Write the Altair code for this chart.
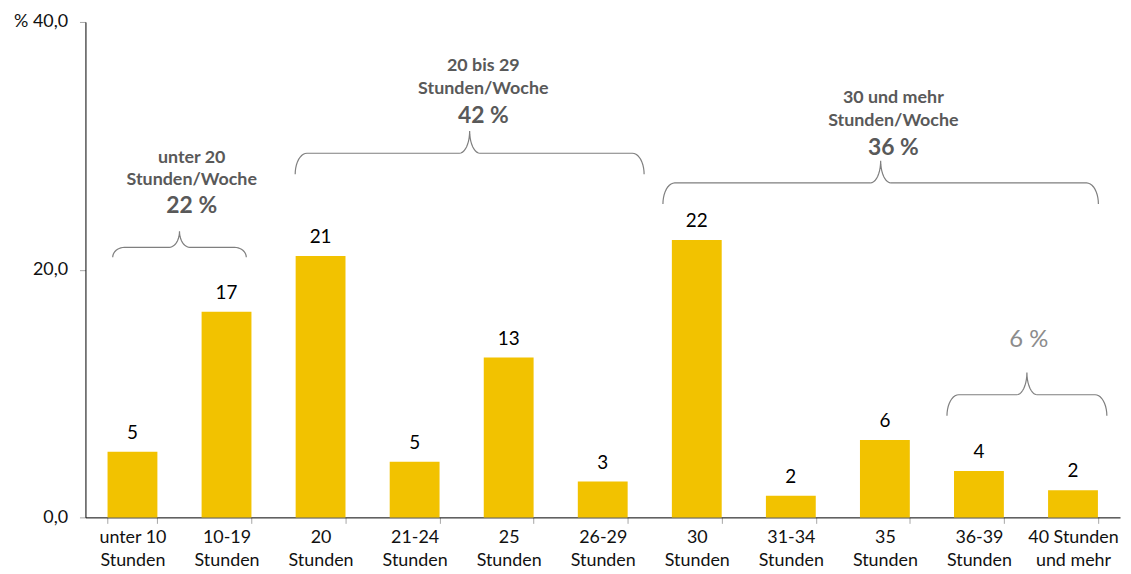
import math
import altair as alt
import pandas as pd

# ---- data ----
categories = ["unter 10\nStunden", "10-19\nStunden", "20\nStunden", "21-24\nStunden",
              "25\nStunden", "26-29\nStunden", "30\nStunden", "31-34\nStunden",
              "35\nStunden", "36-39\nStunden", "40 Stunden\nund mehr"]
values = [5.3, 16.6, 21.1, 4.5, 12.9, 2.9, 22.4, 1.75, 6.25, 3.75, 2.2]
value_labels = ["5", "17", "21", "5", "13", "3", "22", "2", "6", "4", "2"]

# braces: start / end (in category index units), level of line, end drop, peak rise
brace_start = [-0.21, 1.73, 5.64, 8.66]
brace_end = [1.21, 5.44, 10.27, 10.36]
brace_level = [21.8, 29.4, 27.0, 9.9]
brace_drop = [0.8, 1.7, 1.7, 1.7]
brace_rise = [1.3, 1.8, 1.8, 1.8]

# brace annotation texts
head_x = [0.63, 3.73, 8.09]
head_line1 = ["unter 20", "20 bis 29", "30 und mehr"]
head_line1_y = [29.05, 36.45, 33.85]
head_line2 = ["Stunden/Woche", "Stunden/Woche", "Stunden/Woche"]
head_line2_y = [27.2, 34.6, 31.98]
head_pct = ["22 %", "42 %", "36 %"]
head_pct_y = [25.1, 32.4, 29.85]
small_pct = ["6 %"]
small_pct_x = [9.53]
small_pct_y = [14.3]

BAR = "#F2C200"
GREY_TXT = "#595959"
FONT = "Lato"

df = pd.DataFrame({"cat": categories, "value": values, "label": value_labels})


def brace_points(bid, x0, x1, yh, drop, rise, rx=0.125, rc=0.11, n=10):
    xc = (x0 + x1) / 2
    yend = yh - drop
    ypk = yh + rise
    pts = []
    for k in range(n + 1):
        t = (math.pi / 2) * k / n
        pts.append((x0 + rx - rx * math.cos(t), yend + drop * math.sin(t)))
    for k in range(n + 1):
        t = (math.pi / 2) * k / n
        pts.append((xc - rc + rc * math.sin(t), ypk - rise * math.cos(t)))
    for k in range(n + 1):
        t = (math.pi / 2) * k / n
        pts.append((xc + rc - rc * math.cos(t), ypk - rise * math.sin(t)))
    for k in range(n + 1):
        t = (math.pi / 2) * k / n
        pts.append((x1 - rx + rx * math.sin(t), yh - drop * (1 - math.cos(t))))
    return [{"b": bid, "o": i, "bx": p[0], "by": p[1]} for i, p in enumerate(pts)]


rows = []
for i in range(len(brace_start)):
    rows += brace_points(i, brace_start[i], brace_end[i], brace_level[i], brace_drop[i], brace_rise[i])
braces = pd.DataFrame(rows)

heads = pd.DataFrame({
    "x": head_x * 2, "y": head_line1_y + head_line2_y, "t": head_line1 + head_line2,
})
pcts = pd.DataFrame({"x": head_x, "y": head_pct_y, "t": head_pct})
small = pd.DataFrame({"x": small_pct_x, "y": small_pct_y, "t": small_pct})

yscale = alt.Scale(domain=[0, 40], nice=False, zero=True)
xq = alt.Scale(domain=[-0.5, 10.5], nice=False, zero=False)
xband = alt.Scale(paddingInner=0.47, paddingOuter=0.235)

bars = alt.Chart(df).mark_bar(color=BAR).encode(
    x=alt.X("cat:N", sort=categories, scale=xband,
            axis=alt.Axis(title=None, orient="bottom", labelAngle=0,
                          labelExpr="split(datum.label, '\\n')",
                          tickBand="extent", tickSize=6, tickColor="#a6a6a6",
                          domainColor="#000000", labelFontSize=18, labelLineHeight=23,
                          labelPadding=5, labelColor="#111111", labelFont=FONT,
                          labelBaseline="top")),
    y=alt.Y("value:Q", scale=yscale,
            axis=alt.Axis(title=None, values=[0, 20, 40], grid=False, tickSize=6,
                          tickColor="#a6a6a6", domainColor="#000000", labelFontSize=18,
                          labelColor="#111111", labelFont=FONT, labelPadding=12,
                          labelExpr="datum.value == 40 ? '% 40,0' : replace(format(datum.value, '.1f'), '.', ',')")),
)

vals = alt.Chart(df).mark_text(fontSize=19, font=FONT, color="#000000", baseline="alphabetic", dy=-13).encode(
    x=alt.X("cat:N", sort=categories, scale=xband, axis=None),
    y=alt.Y("value:Q", scale=yscale),
    text="label:N",
)

brace_lines = alt.Chart(braces).mark_line(color="#7f7f7f", strokeWidth=1.2).encode(
    x=alt.X("bx:Q", scale=xq, axis=None),
    y=alt.Y("by:Q", scale=yscale),
    detail="b:N",
    order="o:Q",
)

head_text = alt.Chart(heads).mark_text(fontSize=18, fontWeight="bold", font=FONT, color=GREY_TXT,
                                       baseline="middle").encode(
    x=alt.X("x:Q", scale=xq, axis=None), y=alt.Y("y:Q", scale=yscale), text="t:N")

pct_text = alt.Chart(pcts).mark_text(fontSize=23, fontWeight="bold", font=FONT, color=GREY_TXT,
                                     baseline="middle").encode(
    x=alt.X("x:Q", scale=xq, axis=None), y=alt.Y("y:Q", scale=yscale), text="t:N")

small_text = alt.Chart(small).mark_text(fontSize=24, font=FONT, color="#8c8c8c",
                                        baseline="middle").encode(
    x=alt.X("x:Q", scale=xq, axis=None), y=alt.Y("y:Q", scale=yscale), text="t:N")

chart = alt.layer(bars, vals, brace_lines, head_text, pct_text, small_text).resolve_scale(
    x="independent"
).properties(
    width=1042, height=499,
    autosize=alt.AutoSizeParams(type="none"),
    padding={"left": 78, "top": 12, "right": 3, "bottom": 60},
).configure_view(stroke=None).configure_axis(domainWidth=1)

chart.save("out.html", embed_options={"renderer": "svg", "actions": False})
